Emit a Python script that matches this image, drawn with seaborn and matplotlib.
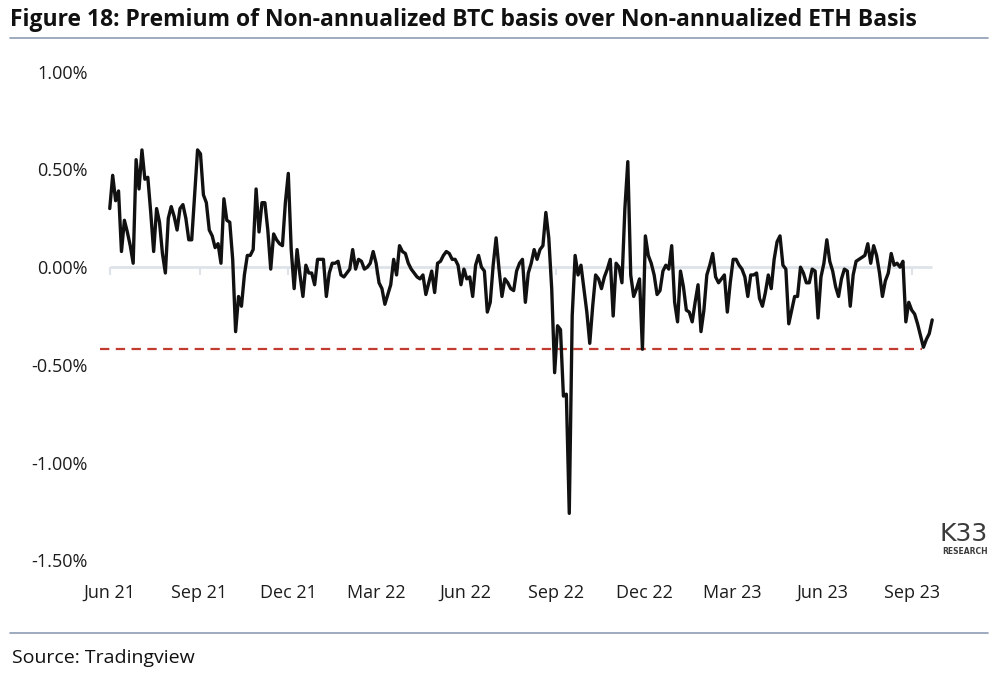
import pandas as pd
import seaborn as sns
import matplotlib.pyplot as plt
from matplotlib.lines import Line2D
from matplotlib.ticker import FuncFormatter

# premium of BTC basis over ETH basis, in %, one reading every 3 days from 1 Jun 2021
basis_2021 = [0.30, 0.47, 0.34, 0.39, 0.08, 0.24, 0.18, 0.11, 0.02, 0.55,
              0.40, 0.60, 0.45, 0.46, 0.28, 0.08, 0.30, 0.23, 0.07, -0.03,
              0.25, 0.31, 0.26, 0.19, 0.30, 0.32, 0.25, 0.14, 0.14, 0.37,
              0.60, 0.58, 0.37, 0.33, 0.19, 0.16, 0.10, 0.12, 0.02, 0.35,
              0.24, 0.23, 0.04, -0.33, -0.15, -0.20, -0.04, 0.06, 0.06, 0.09,
              0.40, 0.18, 0.33, 0.33, 0.19, -0.01, 0.17, 0.14, 0.12, 0.11,
              0.33, 0.48, 0.09, -0.11, 0.09, -0.04, -0.15, 0.01, -0.03, -0.03,
              -0.09, 0.04]
basis_2022 = [0.04, 0.04, -0.15, -0.03, 0.02, 0.02, 0.03, -0.04,
              -0.05, -0.03, -0.01, 0.09, -0.01, 0.04, 0.03, -0.01, 0.00, 0.02,
              0.08, 0.02, -0.08, -0.11, -0.19, -0.14, -0.09, 0.04, -0.04, 0.11,
              0.08, 0.07, 0.02, -0.01, -0.03, -0.05, -0.06, -0.04, -0.14, -0.08,
              -0.02, -0.13, 0.02, 0.03, 0.06, 0.08, 0.07, 0.04, 0.04, 0.01,
              -0.09, -0.01, -0.06, -0.05, -0.15, 0.01, 0.06, 0.00, -0.02, -0.23,
              -0.18, 0.01, 0.15, -0.01, -0.15, -0.06, -0.08, -0.11, -0.12, -0.02,
              0.02, 0.04, -0.18, -0.03, 0.02, 0.09, 0.04, 0.09, 0.11, 0.28,
              0.15, -0.11, -0.54, -0.30, -0.32, -0.66, -0.65, -1.26, -0.25, 0.06,
              -0.04, 0.01, -0.11, -0.23, -0.39, -0.20, -0.04, -0.06, -0.11, -0.05,
              -0.01, 0.04, -0.25, 0.02, 0.00, -0.08, 0.30, 0.54, -0.04, -0.15,
              -0.11, -0.06, -0.42, 0.16, 0.06, 0.02, -0.04, -0.14, -0.12, -0.02,
              0.01, -0.01, 0.11]
basis_2023 = [-0.18, -0.28, -0.02, -0.10, -0.22, -0.23, -0.28,
              -0.18, -0.09, -0.33, -0.22, -0.04, 0.01, 0.07, -0.05, -0.08, -0.06,
              -0.04, -0.23, -0.08, 0.04, 0.04, 0.01, -0.01, -0.05, -0.15, -0.04,
              -0.04, -0.03, -0.16, -0.20, -0.13, -0.04, -0.11, 0.04, 0.13, 0.16,
              0.01, -0.01, -0.29, -0.22, -0.15, -0.15, 0.00, -0.03, -0.08, -0.08,
              -0.01, -0.02, -0.26, -0.05, 0.02, 0.14, 0.03, -0.02, -0.10, -0.15,
              -0.06, -0.01, -0.02, -0.20, -0.04, 0.03, 0.04, 0.05, 0.06, 0.12,
              0.02, 0.11, 0.06, -0.03, -0.15, -0.07, -0.03, 0.07, 0.01, 0.02,
              0.00, 0.03, -0.28, -0.18, -0.22, -0.24, -0.29, -0.35, -0.41, -0.37,
              -0.34, -0.27]
start_date = "2021-06-01"
red_level = -0.42

tick_dates = ["2021-06-01", "2021-09-01", "2021-12-01", "2022-03-01", "2022-06-01",
              "2022-09-01", "2022-12-01", "2023-03-01", "2023-06-01", "2023-09-01"]
tick_labels = ["Jun 21", "Sep 21", "Dec 21", "Mar 22", "Jun 22",
               "Sep 22", "Dec 22", "Mar 23", "Jun 23", "Sep 23"]
y_ticks = [1.0, 0.5, 0.0, -0.5, -1.0, -1.5]

title = "Figure 18: Premium of Non-annualized BTC basis over Non-annualized ETH Basis"
source = "Source: Tradingview"

values = basis_2021 + basis_2022 + basis_2023
df = pd.DataFrame({"date": pd.date_range(start_date, periods=len(values), freq="3D"),
                   "premium": values})

sns.set_style("white")
plt.rcParams["font.family"] = ["Open Sans", "DejaVu Sans"]

W, H = 1001, 675
fig = plt.figure(figsize=(W / 100, H / 100), dpi=100)
ax = fig.add_axes([100 / W, 1 - 570 / H, 840 / W, 508 / H])

first, last = df["date"].iloc[0], df["date"].iloc[-1]
grey = "#dde3e8"
ax.hlines(0, first, last, color=grey, lw=2, zorder=1)
ax.vlines(pd.to_datetime(tick_dates), -0.04, 0, color=grey, lw=1.5, zorder=1)
ax.hlines(red_level, first - pd.Timedelta(days=10), last - pd.Timedelta(days=10),
          color="#c23b30", lw=1.6, linestyles=(0, (4.2, 2.9)), zorder=2)

sns.lineplot(data=df, x="date", y="premium", ax=ax, color="#111111", lw=2.4, zorder=3)

ax.set_xlim(first - pd.Timedelta(days=10), last + pd.Timedelta(days=8))
ax.set_ylim(-1.55, 1.05)
ax.set_yticks(y_ticks)
ax.yaxis.set_major_formatter(FuncFormatter(lambda v, p: f"{v:.2f}%"))
ax.set_xticks(pd.to_datetime(tick_dates))
ax.set_xticklabels(tick_labels)
ax.tick_params(axis="both", length=0, labelsize=13, colors="#1c1c1c")
ax.tick_params(axis="x", pad=10)
ax.tick_params(axis="y", pad=9)
ax.set_xlabel("")
ax.set_ylabel("")
sns.despine(ax=ax, left=True, bottom=True)

# title, sized to fill the header width
t = fig.text(10 / W, 1 - 20 / H, title, fontsize=14, fontweight="bold",
             va="center", ha="left", color="#111111")
fig.canvas.draw()
w = t.get_window_extent().width
t.set_fontsize(14 * 910 / w)

rule = "#8d9db5"
fig.add_artist(Line2D([10 / W, 988 / W], [1 - 38 / H] * 2, color=rule, lw=1.2))
fig.add_artist(Line2D([10 / W, 988 / W], [1 - 633 / H] * 2, color=rule, lw=1.2))
fig.text(12 / W, 1 - 658 / H, source, fontsize=14, va="center", ha="left", color="#111111")

# K33 logo
fig.text(988 / W, 1 - 546 / H, "K33", fontsize=18, va="bottom", ha="right",
         color="#3b3b3b", family="DejaVu Sans")
fig.text(988 / W, 1 - 547 / H, "RESEARCH", fontsize=5.5, fontweight="bold",
         va="top", ha="right", color="#3b3b3b", family="DejaVu Sans")

fig.savefig("out.png", dpi=100)
